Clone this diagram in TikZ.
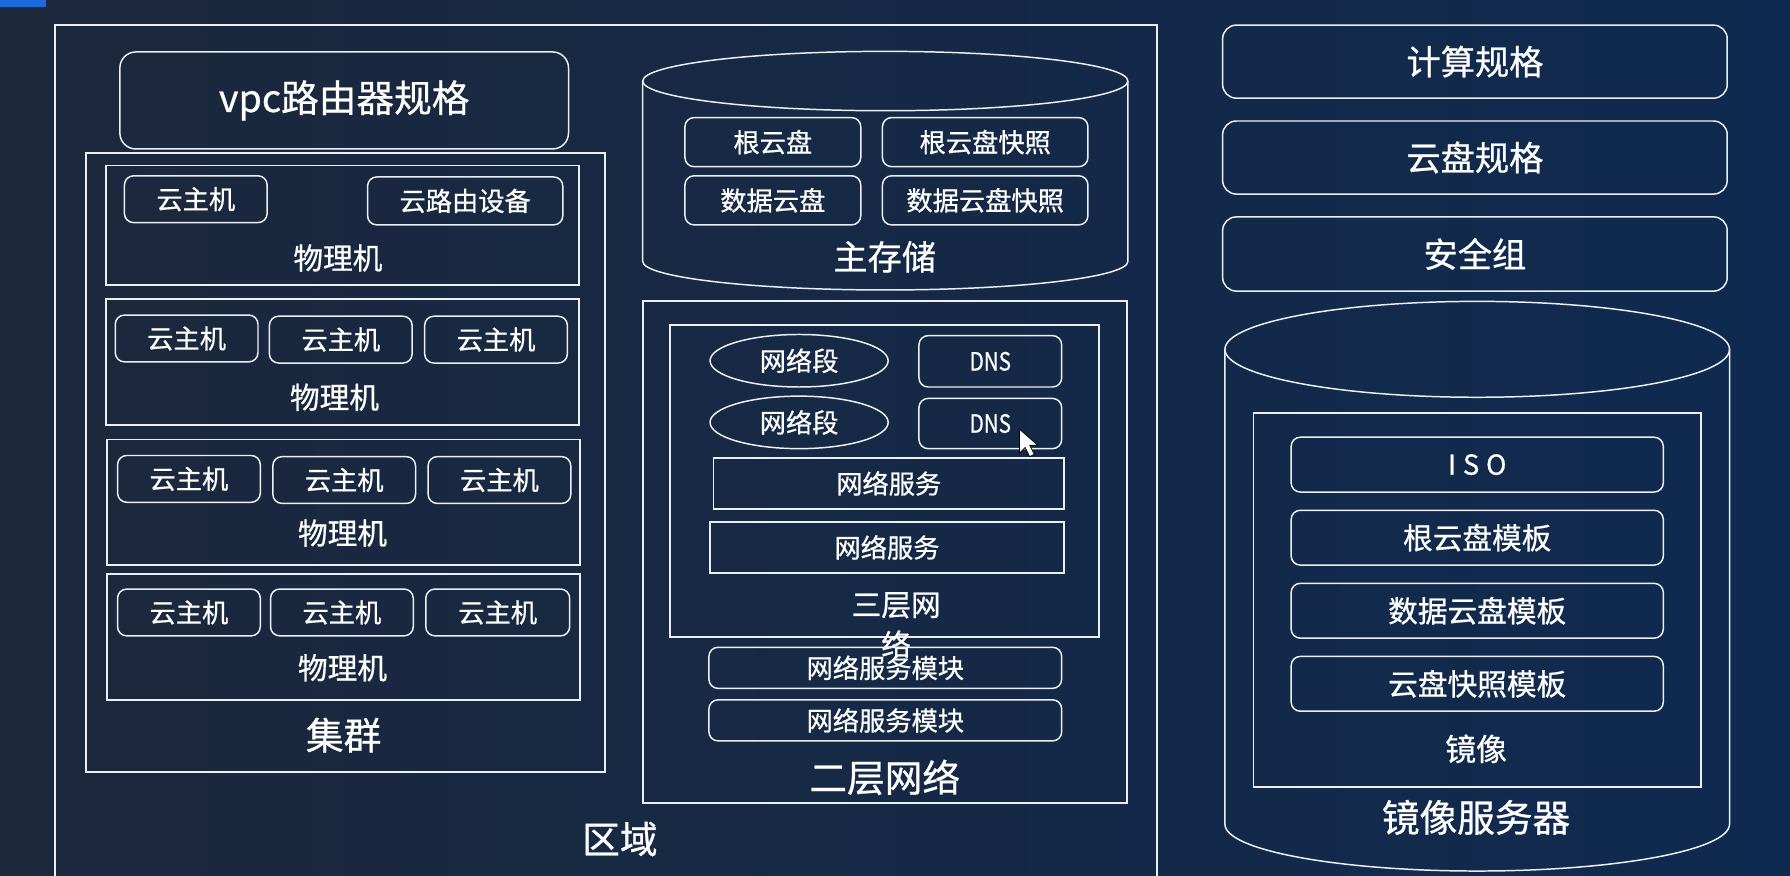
\documentclass[tikz,border=0pt]{standalone}
\usepackage{fontspec}
\setmainfont{Noto Sans CJK SC}[FakeBold=0.7]
\newfontfamily\narrowfont[FakeStretch=0.82,FakeBold=0.7]{Noto Sans CJK SC}
\newfontfamily\wideletters[LetterSpace=25,FakeBold=0.7]{Noto Sans CJK SC}
\usetikzlibrary{shapes.geometric}
\definecolor{bgl}{RGB}{28,40,60}
\definecolor{bgr}{RGB}{15,42,80}
\definecolor{corner}{RGB}{26,106,224}
\definecolor{ln}{RGB}{236,240,246}
\tikzset{
  fs/.style={font=\fontsize{#1pt}{#1pt}\selectfont},
  sq/.style={draw=ln, line width=1.7pt, rectangle, inner sep=0pt},
  rb/.style={draw=ln, line width=1.3pt, rectangle, rounded corners=#1, inner sep=0pt, text=white},
  rb/.default=8pt,
  ov/.style={draw=ln, line width=1.3pt, ellipse, inner sep=0pt, text=white},
  lbl/.style={text=white, inner sep=0pt},
  cyl/.style={draw=ln, line width=1.3pt}
}
\begin{document}
\begin{tikzpicture}[x=1pt,y=-1pt]
\useasboundingbox (0,0) rectangle (1568,767);
\shade[left color=bgl, right color=bgr] (0,0) rectangle (1568,767);
\fill[corner] (0,0) rectangle (40,6);

% region frame
\node (region) [sq, minimum width=966pt, minimum height=780pt, anchor=north west] at (47,21) {};
\node (regionl) [lbl, fs=33] at (543,735) {区域};

% vpc router spec
\node (vpc) [rb=14pt, minimum width=393pt, minimum height=85pt, fs=33] at (301.5,88) {vpc路由器规格};

% cluster
\node (cluster) [sq, minimum width=455pt, minimum height=542pt] at (302.5,405) {};
\node (clusterl) [lbl, fs=33] at (301,644) {集群};

% physical machine 1
\node (pm1) [sq, minimum width=414pt, minimum height=105pt] at (300,197.5) {};
\node (pm1l) [lbl, fs=26] at (296,226) {物理机};
\node (vm11) [rb, minimum width=125pt, minimum height=41pt, fs=23] at (171.5,174.5) {云主机};
\node (vr) [rb, minimum width=171pt, minimum height=42pt, fs=23] at (407.5,176) {云路由设备};

% physical machine 2
\node (pm2) [sq, minimum width=414pt, minimum height=110pt] at (300,317) {};
\node (pm2l) [lbl, fs=26] at (293,348) {物理机};
\node (vm21) [rb, minimum width=125pt, minimum height=41pt, fs=23] at (163.5,296.5) {云主机};
\node (vm22) [rb, minimum width=125pt, minimum height=41pt, fs=23] at (298.5,297.5) {云主机};
\node (vm23) [rb, minimum width=125pt, minimum height=41pt, fs=23] at (434.5,297.5) {云主机};

% physical machine 3
\node (pm3) [sq, minimum width=414pt, minimum height=110pt] at (301,440) {};
\node (pm3l) [lbl, fs=26] at (300,467) {物理机};
\node (vm31) [rb, minimum width=125pt, minimum height=41pt, fs=23] at (165.5,419.5) {云主机};
\node (vm32) [rb, minimum width=125pt, minimum height=41pt, fs=23] at (301.5,420.5) {云主机};
\node (vm33) [rb, minimum width=125pt, minimum height=41pt, fs=23] at (437.5,420.5) {云主机};

% physical machine 4
\node (pm4) [sq, minimum width=414pt, minimum height=110pt] at (301,558) {};
\node (pm4l) [lbl, fs=26] at (300,585) {物理机};
\node (vm41) [rb, minimum width=125pt, minimum height=41pt, fs=23] at (165.5,536.5) {云主机};
\node (vm42) [rb, minimum width=125pt, minimum height=41pt, fs=23] at (299.5,536.5) {云主机};
\node (vm43) [rb, minimum width=126pt, minimum height=41pt, fs=23] at (436,536.5) {云主机};

% primary storage cylinder
\draw[cyl] (775.5,71) ellipse [x radius=212.5pt, y radius=26pt];
\draw[cyl] (563,71) -- (563,229) arc[start angle=180, end angle=360, x radius=212.5pt, y radius=25pt] -- (988,71);
\node (d1) [rb, minimum width=154pt, minimum height=43pt, fs=23] at (677,124.5) {根云盘};
\node (d2) [rb, minimum width=180pt, minimum height=43pt, fs=23] at (863,124.5) {根云盘快照};
\node (d3) [rb, minimum width=154pt, minimum height=43pt, fs=23] at (677,175.5) {数据云盘};
\node (d4) [rb, minimum width=180pt, minimum height=43pt, fs=23] at (863,175.5) {数据云盘快照};
\node (psl) [lbl, fs=30] at (775,225) {主存储};

% L2 network
\node (l2) [sq, minimum width=424pt, minimum height=439pt] at (775,483.5) {};
\node (l2l) [lbl, fs=33] at (775,681) {二层网络};
\node (l3) [sq, minimum width=376pt, minimum height=273pt] at (775,421.5) {};
\node (l3l) [lbl, align=center, font=\fontsize{26pt}{35pt}\selectfont] at (785,547.5) {三层网\\络};
\node (seg1) [ov, minimum width=156pt, minimum height=46pt, fs=23] at (700,316) {网络段};
\node (seg2) [ov, minimum width=156pt, minimum height=46pt, fs=23] at (700,370) {网络段};
\node (dns1) [rb, minimum width=125pt, minimum height=45pt, fs=22] at (867.5,316.5) {\narrowfont DNS};
\node (dns2) [rb, minimum width=125pt, minimum height=44pt, fs=22] at (867.5,371) {\narrowfont DNS};
\node (svc1) [sq, minimum width=307pt, minimum height=45pt, fs=23, text=white] at (778.5,423.5) {网络服务};
\node (svc2) [sq, minimum width=310pt, minimum height=45pt, fs=23, text=white] at (777,479.5) {网络服务};
\node (mod1) [rb, minimum width=309pt, minimum height=36pt, fs=23] at (775.5,585) {网络服务模块};
\node (mod2) [rb, minimum width=309pt, minimum height=36pt, fs=23] at (775.5,631) {网络服务模块};

% mouse pointer
\filldraw[fill=white, draw=black, line width=0.6pt] (893,376) -- (893,397) -- (898,392) -- (902,400) -- (906,398) -- (902,390) -- (909,390) -- cycle;

% right column specs
\node (cs) [rb=12pt, minimum width=442pt, minimum height=64pt, fs=30] at (1292,54) {计算规格};
\node (ds) [rb=12pt, minimum width=442pt, minimum height=64pt, fs=30] at (1292,138) {云盘规格};
\node (sg) [rb=12pt, minimum width=442pt, minimum height=65pt, fs=30] at (1292,222.5) {安全组};

% image server cylinder
\draw[cyl] (1294,306) ellipse [x radius=221pt, y radius=42pt];
\draw[cyl] (1073,306) -- (1073,722) arc[start angle=180, end angle=360, x radius=221pt, y radius=41pt] -- (1515,306);
\node (img) [sq, minimum width=392pt, minimum height=327pt] at (1294,525.5) {};
\node (imgl) [lbl, fs=27] at (1293,656) {镜像};
\node (iso) [rb, minimum width=326pt, minimum height=48pt, fs=24] at (1294,407) {\wideletters ISO};
\node (rt) [rb, minimum width=326pt, minimum height=48pt, fs=26] at (1294,471) {根云盘模板};
\node (dt) [rb, minimum width=326pt, minimum height=48pt, fs=26] at (1294,535) {数据云盘模板};
\node (st) [rb, minimum width=326pt, minimum height=48pt, fs=26] at (1294,599) {云盘快照模板};
\node (isl) [lbl, fs=33] at (1293,716) {镜像服务器};
\end{tikzpicture}
\end{document}
